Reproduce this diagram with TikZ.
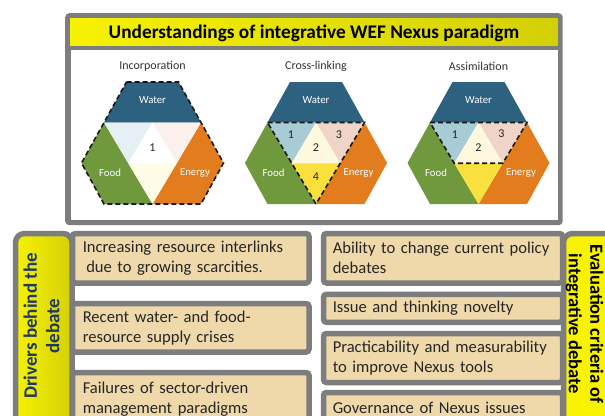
\documentclass[tikz,border=0pt]{standalone}
\usepackage{fontspec}
\setmainfont{Carlito}

\definecolor{framegray}{RGB}{125,125,125}
\definecolor{tanfill}{RGB}{239,217,170}
\definecolor{boxtext}{RGB}{38,38,38}
\definecolor{navytext}{RGB}{31,56,100}
\definecolor{waterblue}{RGB}{45,97,128}
\definecolor{foodgreen}{RGB}{112,152,60}
\definecolor{energyorange}{RGB}{226,124,28}
\definecolor{linkblue}{RGB}{168,204,214}
\definecolor{linkpink}{RGB}{240,212,200}
\definecolor{linkcream}{RGB}{253,248,222}
\definecolor{linkyellow}{RGB}{250,224,60}
\definecolor{paleblue}{RGB}{230,239,243}
\definecolor{palepink}{RGB}{251,240,236}
\definecolor{paleyellow}{RGB}{254,251,230}
\definecolor{brightyellow}{RGB}{246,242,0}
\definecolor{deepyellow}{RGB}{212,208,8}
\definecolor{captiongray}{RGB}{51,51,51}

\newcommand\boxfont{\fontsize{16.6}{20}\selectfont}
\newcommand\headfont{\fontsize{19.3}{22}\selectfont\bfseries}
\newcommand\leftbandfont{\fontsize{19}{22.5}\selectfont\bfseries}
\newcommand\rightbandfont{\fontsize{18.5}{21.5}\selectfont\bfseries}

\begin{document}
\begin{tikzpicture}[x=1pt,y=-1pt,
  itembox/.style={draw=framegray, line width=5.5pt, fill=tanfill, rounded corners=3pt,
    anchor=north west, inner ysep=0pt, align=left, font=\boxfont, text=boxtext},
  leftitem/.style={itembox, inner xsep=10.25pt, text width=216pt},
  rightitem/.style={itembox, inner xsep=9.25pt, text width=220.5pt},
  bandbox/.style={draw=framegray, line width=5.5pt, rounded corners=9pt,
    anchor=north west, inner sep=0pt},
  hexname/.style={font=\fontsize{12}{14}\selectfont, text=captiongray},
  partlabel/.style={font=\fontsize{10.8}{12}\selectfont, text=white},
  numlabel/.style={font=\fontsize{12}{14}\selectfont, text=black!85},
  outline/.style={draw=black!90, line width=1.6pt, dash pattern=on 5pt off 3pt},
  wefhex/.pic={
    \fill[waterblue] (-26,82) -- (26,82) -- (48.5,122.5) -- (-48.5,122.5) -- cycle;
    \fill[foodgreen] (-48.5,122.5) -- (-71,163) -- (-48.5,204) -- (0,204) -- cycle;
    \fill[energyorange] (48.5,122.5) -- (71,163) -- (48.5,204) -- (0,204) -- cycle;
    \node[partlabel] (water) at (0,100) {Water};
    \node[partlabel] (food) at (-42.5,173) {Food};
    \node[partlabel] (energy) at (42.5,173) {Energy};
  }
]
\useasboundingbox (0,0) rectangle (605,415);
\clip (0,0) rectangle (605,415);
\fill[white] (0,0) rectangle (605,415);

% ---------- upper panel ----------
\node[fill=framegray, rounded corners=4pt, anchor=north west, inner sep=0pt,
  minimum width=497.5pt, minimum height=212pt] (topframe) at (65,13) {};
\node[anchor=north west, inner sep=0pt, minimum width=487.5pt, minimum height=27pt,
  left color=brightyellow, middle color=brightyellow, right color=deepyellow] (header) at (70,18) {};
\node[font=\headfont, anchor=base] (title) at (314,38.5)
  {Understandings of integrative WEF Nexus paradigm};
\node[fill=white, anchor=north west, inner sep=0pt,
  minimum width=486.5pt, minimum height=169.5pt] (panel) at (71,50) {};

% Incorporation
\pic (inc) at (152.5,0) {wefhex};
\begin{scope}[shift={(152.5,0)}]
  \fill[paleblue] (-48.5,122.5) -- (0,122.5) -- (-24.25,163.25) -- cycle;
  \fill[palepink] (0,122.5) -- (48.5,122.5) -- (24.25,163.25) -- cycle;
  \fill[white] (0,122.5) -- (-24.25,163.25) -- (24.25,163.25) -- cycle;
  \fill[paleyellow] (-24.25,163.25) -- (24.25,163.25) -- (0,204) -- cycle;
  \draw[outline] (-26,82) -- (26,82) -- (71,163) -- (48.5,204) -- (-48.5,204) -- (-71,163) -- cycle;
  \node[numlabel] (incone) at (0,148) {1};
  \node[hexname] (inccap) at (0,66) {Incorporation};
\end{scope}

% Cross-linking
\pic (cross) at (316,0) {wefhex};
\begin{scope}[shift={(316,0)}]
  \fill[linkblue] (-48.5,122.5) -- (0,122.5) -- (-24.25,163.25) -- cycle;
  \fill[linkpink] (0,122.5) -- (48.5,122.5) -- (24.25,163.25) -- cycle;
  \fill[linkcream] (0,122.5) -- (-24.25,163.25) -- (24.25,163.25) -- cycle;
  \fill[linkyellow] (-24.25,163.25) -- (24.25,163.25) -- (0,204) -- cycle;
  \draw[outline] (-48.5,122.5) -- (48.5,122.5) -- (0,204) -- cycle;
  \node[numlabel] (crossone) at (-25,135) {1};
  \node[numlabel] (crosstwo) at (0,148) {2};
  \node[numlabel] (crossthree) at (23,135) {3};
  \node[numlabel] (crossfour) at (0,177) {4};
  \node[hexname] (crosscap) at (0,66) {Cross-linking};
\end{scope}

% Assimilation
\pic (assim) at (478.5,0) {wefhex};
\begin{scope}[shift={(478.5,0)}]
  \fill[linkblue] (-48.5,122.5) -- (0,122.5) -- (-24.25,163.25) -- cycle;
  \fill[linkpink] (0,122.5) -- (48.5,122.5) -- (24.25,163.25) -- cycle;
  \fill[linkcream] (0,122.5) -- (-24.25,163.25) -- (24.25,163.25) -- cycle;
  \fill[linkyellow] (-24.25,163.25) -- (24.25,163.25) -- (0,204) -- cycle;
  \draw[outline] (-48.5,122.5) -- (48.5,122.5) -- (24.25,163.25) -- (-24.25,163.25) -- cycle;
  \node[numlabel] (assimone) at (-23.5,135) {1};
  \node[numlabel] (assimtwo) at (0,148) {2};
  \node[numlabel] (assimthree) at (23,134) {3};
  \node[hexname] (assimcap) at (0,66) {Assimilation};
\end{scope}

% ---------- drivers column ----------
\node[bandbox, left color=brightyellow, right color=deepyellow,
  minimum width=56.5pt, minimum height=200pt] (driversband) at (12.75,230.75) {};
\node[rotate=90, align=center, font=\leftbandfont, text=navytext] (drivers) at (41.6,326)
  {Drivers behind the\\debate};

\node[leftitem, minimum height=49.5pt] (drv1) at (69.75,230.75)
  {Increasing resource interlinks\\\hspace*{3.5pt}due to growing scarcities.};
\node[leftitem, minimum height=48.5pt] (drv2) at (69.75,300.75)
  {Recent water- and food-\\resource supply crises};
\node[leftitem, minimum height=52.5pt] (drv3) at (69.75,369.75)
  {Failures of sector-driven\\management paradigms};

% ---------- evaluation column ----------
\node[bandbox, fill=brightyellow,
  minimum width=60pt, minimum height=200pt] (criteriaband) at (560.75,230.75) {};
\node[rotate=-90, align=center, font=\rightbandfont, text=black] (criteria) at (584.5,324)
  {Evaluation criteria of\\integrative debate};

\node[rightitem, minimum height=49.5pt] (crit1) at (320.75,230.75)
  {Ability to change current policy\\debates};
\node[rightitem, minimum height=28pt] (crit2) at (320.75,291.5)
  {Issue and thinking novelty};
\node[rightitem, minimum height=49pt] (crit3) at (320.75,330.75)
  {Practicability and measurability\\to improve Nexus tools};
\node[rightitem, minimum height=30pt] (crit4) at (320.75,389.75)
  {Governance of Nexus issues};
\end{tikzpicture}
\end{document}
